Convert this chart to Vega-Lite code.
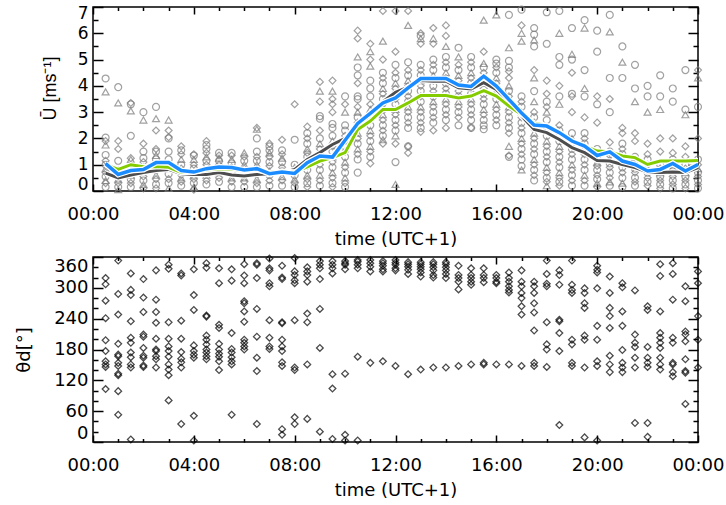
{
"$schema":"https://vega.github.io/schema/vega-lite/v6.json",
"padding":{"left":14,"top":3,"right":5,"bottom":5},
"spacing":1,
"config":{"view":{"stroke":"black","strokeWidth":1.5},"axis":{"labelFont":"DejaVu Sans","labelFontSize":18,"titleFont":"DejaVu Sans","titleFontSize":18,"titleFontWeight":"normal","labelColor":"black","titleColor":"black","tickColor":"black","tickWidth":1.5,"domain":false,"grid":false,"labelOverlap":false}},
"datasets":{
"pts":[
{"t":0.5,"u":4.28,"s":"c"},{"t":0.5,"u":3.77,"s":"t"},{"t":0.5,"u":2.03,"s":"c"},{"t":0.5,"u":1.9,"s":"d"},{"t":0.5,"u":1.75,"s":"t"},{"t":0.5,"u":1.37,"s":"c"},{"t":0.5,"u":1.15,"s":"d"},{"t":0.5,"u":1.0,"s":"c"},{"t":0.5,"u":0.85,"s":"t"},{"t":0.5,"u":0.7,"s":"d"},{"t":0.5,"u":0.55,"s":"c"},{"t":0.5,"u":0.4,"s":"t"},{"t":0.5,"u":0.3,"s":"d"},{"t":0.5,"u":0.15,"s":"c"},
{"t":1,"u":3.95,"s":"c"},{"t":1,"u":3.35,"s":"t"},{"t":1,"u":1.9,"s":"d"},{"t":1,"u":1.6,"s":"d"},{"t":1,"u":1.15,"s":"c"},{"t":1,"u":0.8,"s":"d"},{"t":1,"u":0.6,"s":"c"},{"t":1,"u":0.45,"s":"t"},{"t":1,"u":0.3,"s":"d"},{"t":1,"u":0.15,"s":"c"},{"t":1,"u":0.05,"s":"t"},
{"t":1.5,"u":3.35,"s":"d"},{"t":1.5,"u":3.3,"s":"c"},{"t":1.5,"u":3.05,"s":"t"},{"t":1.5,"u":2.1,"s":"c"},{"t":1.5,"u":1.2,"s":"t"},{"t":1.5,"u":1.25,"s":"d"},{"t":1.5,"u":0.95,"s":"c"},{"t":1.5,"u":0.8,"s":"d"},{"t":1.5,"u":0.6,"s":"t"},{"t":1.5,"u":0.45,"s":"c"},{"t":1.5,"u":0.3,"s":"d"},{"t":1.5,"u":0.15,"s":"c"},
{"t":2,"u":3.0,"s":"c"},{"t":2,"u":2.7,"s":"t"},{"t":2,"u":1.8,"s":"d"},{"t":2,"u":1.5,"s":"c"},{"t":2,"u":1.25,"s":"c"},{"t":2,"u":1.1,"s":"d"},{"t":2,"u":0.9,"s":"t"},{"t":2,"u":0.75,"s":"c"},{"t":2,"u":0.55,"s":"d"},{"t":2,"u":0.4,"s":"c"},{"t":2,"u":0.25,"s":"t"},{"t":2,"u":0.1,"s":"d"},
{"t":2.5,"u":3.2,"s":"c"},{"t":2.5,"u":2.75,"s":"t"},{"t":2.5,"u":2.3,"s":"d"},{"t":2.5,"u":1.6,"s":"d"},{"t":2.5,"u":1.5,"s":"c"},{"t":2.5,"u":1.35,"s":"t"},{"t":2.5,"u":1.2,"s":"c"},{"t":2.5,"u":1.0,"s":"d"},{"t":2.5,"u":0.8,"s":"c"},{"t":2.5,"u":0.6,"s":"t"},{"t":2.5,"u":0.45,"s":"d"},{"t":2.5,"u":0.25,"s":"c"},{"t":2.5,"u":0.1,"s":"d"},
{"t":3,"u":2.7,"s":"t"},{"t":3,"u":2.3,"s":"d"},{"t":3,"u":2.05,"s":"d"},{"t":3,"u":2.0,"s":"c"},{"t":3,"u":1.5,"s":"c"},{"t":3,"u":1.2,"s":"c"},{"t":3,"u":1.0,"s":"d"},{"t":3,"u":0.85,"s":"t"},{"t":3,"u":0.65,"s":"c"},{"t":3,"u":0.45,"s":"d"},{"t":3,"u":0.3,"s":"c"},{"t":3,"u":0.1,"s":"t"},
{"t":3.5,"u":1.7,"s":"d"},{"t":3.5,"u":1.55,"s":"c"},{"t":3.5,"u":1.4,"s":"d"},{"t":3.5,"u":1.2,"s":"t"},{"t":3.5,"u":1.0,"s":"c"},{"t":3.5,"u":0.85,"s":"d"},{"t":3.5,"u":0.65,"s":"c"},{"t":3.5,"u":0.5,"s":"t"},{"t":3.5,"u":0.35,"s":"d"},{"t":3.5,"u":0.2,"s":"c"},
{"t":4,"u":1.4,"s":"d"},{"t":4,"u":1.35,"s":"c"},{"t":4,"u":1.2,"s":"t"},{"t":4,"u":1.0,"s":"d"},{"t":4,"u":0.85,"s":"c"},{"t":4,"u":0.6,"s":"t"},{"t":4,"u":0.45,"s":"d"},{"t":4,"u":0.3,"s":"c"},{"t":4,"u":0.15,"s":"t"},{"t":4,"u":0.05,"s":"d"},
{"t":4.5,"u":1.9,"s":"d"},{"t":4.5,"u":1.75,"s":"c"},{"t":4.5,"u":1.6,"s":"c"},{"t":4.5,"u":1.45,"s":"d"},{"t":4.5,"u":1.3,"s":"t"},{"t":4.5,"u":1.15,"s":"c"},{"t":4.5,"u":1.0,"s":"d"},{"t":4.5,"u":0.8,"s":"c"},{"t":4.5,"u":0.6,"s":"t"},{"t":4.5,"u":0.4,"s":"d"},{"t":4.5,"u":0.25,"s":"c"},
{"t":5,"u":1.45,"s":"c"},{"t":5,"u":1.35,"s":"d"},{"t":5,"u":1.25,"s":"t"},{"t":5,"u":1.15,"s":"c"},{"t":5,"u":1.0,"s":"d"},{"t":5,"u":0.85,"s":"c"},{"t":5,"u":0.7,"s":"t"},{"t":5,"u":0.5,"s":"d"},{"t":5,"u":0.35,"s":"c"},
{"t":5.5,"u":1.45,"s":"c"},{"t":5.5,"u":1.35,"s":"d"},{"t":5.5,"u":1.2,"s":"t"},{"t":5.5,"u":1.05,"s":"c"},{"t":5.5,"u":0.9,"s":"d"},{"t":5.5,"u":0.7,"s":"c"},{"t":5.5,"u":0.5,"s":"t"},{"t":5.5,"u":0.35,"s":"d"},{"t":5.5,"u":0.15,"s":"c"},
{"t":6,"u":1.45,"s":"t"},{"t":6,"u":1.3,"s":"d"},{"t":6,"u":1.15,"s":"c"},{"t":6,"u":1.0,"s":"t"},{"t":6,"u":0.85,"s":"d"},{"t":6,"u":0.7,"s":"c"},{"t":6,"u":0.5,"s":"t"},{"t":6,"u":0.35,"s":"d"},{"t":6,"u":0.15,"s":"c"},
{"t":6.5,"u":2.4,"s":"d"},{"t":6.5,"u":2.35,"s":"t"},{"t":6.5,"u":2.0,"s":"c"},{"t":6.5,"u":1.5,"s":"c"},{"t":6.5,"u":1.3,"s":"d"},{"t":6.5,"u":1.15,"s":"c"},{"t":6.5,"u":1.0,"s":"t"},{"t":6.5,"u":0.85,"s":"d"},{"t":6.5,"u":0.65,"s":"c"},{"t":6.5,"u":0.45,"s":"t"},{"t":6.5,"u":0.3,"s":"d"},{"t":6.5,"u":0.15,"s":"c"},
{"t":7,"u":1.8,"s":"d"},{"t":7,"u":1.7,"s":"c"},{"t":7,"u":1.55,"s":"c"},{"t":7,"u":1.45,"s":"t"},{"t":7,"u":1.3,"s":"d"},{"t":7,"u":1.1,"s":"c"},{"t":7,"u":0.95,"s":"d"},{"t":7,"u":0.75,"s":"t"},{"t":7,"u":0.6,"s":"c"},{"t":7,"u":0.4,"s":"d"},{"t":7,"u":0.2,"s":"c"},
{"t":7.5,"u":1.95,"s":"d"},{"t":7.5,"u":1.55,"s":"c"},{"t":7.5,"u":1.4,"s":"d"},{"t":7.5,"u":1.25,"s":"t"},{"t":7.5,"u":1.1,"s":"c"},{"t":7.5,"u":0.9,"s":"d"},{"t":7.5,"u":0.75,"s":"c"},{"t":7.5,"u":0.55,"s":"t"},{"t":7.5,"u":0.4,"s":"d"},{"t":7.5,"u":0.2,"s":"c"},
{"t":8,"u":3.3,"s":"d"},{"t":8,"u":1.95,"s":"c"},{"t":8,"u":1.0,"s":"c"},{"t":8,"u":0.9,"s":"t"},{"t":8,"u":0.75,"s":"d"},{"t":8,"u":0.6,"s":"c"},{"t":8,"u":0.45,"s":"t"},{"t":8,"u":0.3,"s":"d"},{"t":8,"u":0.15,"s":"c"},
{"t":8.5,"u":2.45,"s":"d"},{"t":8.5,"u":2.2,"s":"c"},{"t":8.5,"u":2.0,"s":"d"},{"t":8.5,"u":1.8,"s":"c"},{"t":8.5,"u":1.6,"s":"t"},{"t":8.5,"u":1.45,"s":"d"},{"t":8.5,"u":1.3,"s":"c"},{"t":8.5,"u":1.1,"s":"t"},{"t":8.5,"u":0.95,"s":"d"},{"t":8.5,"u":0.8,"s":"c"},{"t":8.5,"u":0.6,"s":"t"},{"t":8.5,"u":0.45,"s":"d"},{"t":8.5,"u":0.3,"s":"c"},{"t":8.5,"u":0.15,"s":"d"},
{"t":9,"u":4.15,"s":"d"},{"t":9,"u":3.8,"s":"t"},{"t":9,"u":3.4,"s":"d"},{"t":9,"u":2.85,"s":"c"},{"t":9,"u":2.75,"s":"c"},{"t":9,"u":2.3,"s":"d"},{"t":9,"u":2.0,"s":"c"},{"t":9,"u":1.8,"s":"t"},{"t":9,"u":1.6,"s":"d"},{"t":9,"u":1.4,"s":"c"},{"t":9,"u":1.2,"s":"t"},{"t":9,"u":1.0,"s":"d"},{"t":9,"u":0.8,"s":"c"},{"t":9,"u":0.6,"s":"t"},{"t":9,"u":0.4,"s":"d"},{"t":9,"u":0.2,"s":"c"},
{"t":9.5,"u":4.2,"s":"d"},{"t":9.5,"u":3.8,"s":"t"},{"t":9.5,"u":3.5,"s":"d"},{"t":9.5,"u":3.3,"s":"d"},{"t":9.5,"u":3.0,"s":"d"},{"t":9.5,"u":2.55,"s":"c"},{"t":9.5,"u":2.4,"s":"c"},{"t":9.5,"u":2.1,"s":"c"},{"t":9.5,"u":1.9,"s":"t"},{"t":9.5,"u":1.7,"s":"d"},{"t":9.5,"u":1.5,"s":"c"},{"t":9.5,"u":1.3,"s":"t"},{"t":9.5,"u":1.1,"s":"d"},{"t":9.5,"u":0.9,"s":"c"},{"t":9.5,"u":0.7,"s":"t"},{"t":9.5,"u":0.5,"s":"d"},{"t":9.5,"u":0.3,"s":"c"},{"t":9.5,"u":0.15,"s":"d"},
{"t":10,"u":3.6,"s":"c"},{"t":10,"u":3.3,"s":"d"},{"t":10,"u":3.0,"s":"t"},{"t":10,"u":2.5,"s":"c"},{"t":10,"u":2.3,"s":"c"},{"t":10,"u":2.1,"s":"d"},{"t":10,"u":1.9,"s":"t"},{"t":10,"u":1.7,"s":"c"},{"t":10,"u":1.5,"s":"d"},{"t":10,"u":1.3,"s":"c"},{"t":10,"u":1.1,"s":"t"},{"t":10,"u":0.9,"s":"d"},{"t":10,"u":0.7,"s":"c"},{"t":10,"u":0.5,"s":"t"},{"t":10,"u":0.3,"s":"d"},{"t":10,"u":0.15,"s":"c"},
{"t":10.5,"u":6.1,"s":"d"},{"t":10.5,"u":5.8,"s":"d"},{"t":10.5,"u":5.1,"s":"t"},{"t":10.5,"u":4.7,"s":"c"},{"t":10.5,"u":4.4,"s":"c"},{"t":10.5,"u":4.1,"s":"d"},{"t":10.5,"u":3.6,"s":"c"},{"t":10.5,"u":3.5,"s":"c"},{"t":10.5,"u":3.2,"s":"d"},{"t":10.5,"u":3.0,"s":"t"},{"t":10.5,"u":2.8,"s":"c"},{"t":10.5,"u":2.6,"s":"d"},{"t":10.5,"u":2.4,"s":"c"},{"t":10.5,"u":2.2,"s":"t"},{"t":10.5,"u":2.0,"s":"d"},{"t":10.5,"u":1.8,"s":"c"},{"t":10.5,"u":1.6,"s":"t"},{"t":10.5,"u":1.4,"s":"d"},{"t":10.5,"u":1.2,"s":"c"},{"t":10.5,"u":0.7,"s":"c"},
{"t":11,"u":5.6,"s":"d"},{"t":11,"u":5.3,"s":"t"},{"t":11,"u":5.0,"s":"d"},{"t":11,"u":4.75,"s":"t"},{"t":11,"u":4.2,"s":"c"},{"t":11,"u":3.9,"s":"c"},{"t":11,"u":3.6,"s":"c"},{"t":11,"u":3.3,"s":"d"},{"t":11,"u":3.1,"s":"t"},{"t":11,"u":2.9,"s":"c"},{"t":11,"u":2.7,"s":"d"},{"t":11,"u":2.5,"s":"c"},{"t":11,"u":2.3,"s":"t"},{"t":11,"u":2.1,"s":"d"},{"t":11,"u":1.9,"s":"c"},{"t":11,"u":1.7,"s":"t"},{"t":11,"u":1.5,"s":"d"},{"t":11,"u":1.3,"s":"c"},{"t":11,"u":1.05,"s":"d"},
{"t":11.5,"u":6.85,"s":"d"},{"t":11.5,"u":5.7,"s":"t"},{"t":11.5,"u":5.0,"s":"d"},{"t":11.5,"u":4.5,"s":"c"},{"t":11.5,"u":4.3,"s":"d"},{"t":11.5,"u":4.1,"s":"c"},{"t":11.5,"u":3.9,"s":"t"},{"t":11.5,"u":3.7,"s":"d"},{"t":11.5,"u":3.5,"s":"c"},{"t":11.5,"u":3.3,"s":"d"},{"t":11.5,"u":3.1,"s":"c"},{"t":11.5,"u":2.9,"s":"t"},{"t":11.5,"u":2.7,"s":"d"},{"t":11.5,"u":2.5,"s":"c"},{"t":11.5,"u":2.3,"s":"d"},{"t":11.5,"u":2.1,"s":"c"},{"t":11.5,"u":1.95,"s":"t"},{"t":11.5,"u":1.8,"s":"d"},
{"t":12,"u":6.85,"s":"d"},{"t":12,"u":5.3,"s":"d"},{"t":12,"u":4.8,"s":"c"},{"t":12,"u":4.5,"s":"d"},{"t":12,"u":4.3,"s":"c"},{"t":12,"u":4.1,"s":"t"},{"t":12,"u":3.9,"s":"d"},{"t":12,"u":3.7,"s":"c"},{"t":12,"u":3.5,"s":"d"},{"t":12,"u":3.3,"s":"c"},{"t":12,"u":3.1,"s":"t"},{"t":12,"u":2.9,"s":"d"},{"t":12,"u":2.7,"s":"c"},{"t":12,"u":2.5,"s":"d"},{"t":12,"u":2.3,"s":"c"},{"t":12,"u":2.1,"s":"t"},{"t":12,"u":1.8,"s":"d"},{"t":12,"u":1.1,"s":"c"},{"t":12,"u":0.25,"s":"t"},
{"t":12.5,"u":6.85,"s":"d"},{"t":12.5,"u":6.3,"s":"t"},{"t":12.5,"u":4.9,"s":"c"},{"t":12.5,"u":4.6,"s":"d"},{"t":12.5,"u":4.4,"s":"c"},{"t":12.5,"u":4.2,"s":"t"},{"t":12.5,"u":4.0,"s":"d"},{"t":12.5,"u":3.8,"s":"c"},{"t":12.5,"u":3.6,"s":"d"},{"t":12.5,"u":3.4,"s":"c"},{"t":12.5,"u":3.2,"s":"t"},{"t":12.5,"u":3.0,"s":"d"},{"t":12.5,"u":2.8,"s":"c"},{"t":12.5,"u":2.6,"s":"d"},{"t":12.5,"u":2.4,"s":"c"},{"t":12.5,"u":1.7,"s":"d"},{"t":12.5,"u":1.7,"s":"c"},{"t":12.5,"u":1.45,"s":"d"},
{"t":13,"u":6.0,"s":"d"},{"t":13,"u":5.8,"s":"t"},{"t":13,"u":5.9,"s":"c"},{"t":13,"u":5.6,"s":"d"},{"t":13,"u":4.8,"s":"c"},{"t":13,"u":4.6,"s":"d"},{"t":13,"u":4.4,"s":"c"},{"t":13,"u":4.2,"s":"t"},{"t":13,"u":4.0,"s":"d"},{"t":13,"u":3.8,"s":"c"},{"t":13,"u":3.6,"s":"d"},{"t":13,"u":3.4,"s":"c"},{"t":13,"u":3.2,"s":"t"},{"t":13,"u":3.0,"s":"d"},{"t":13,"u":2.8,"s":"c"},{"t":13,"u":2.6,"s":"d"},{"t":13,"u":2.4,"s":"c"},{"t":13,"u":2.25,"s":"d"},
{"t":13.5,"u":6.2,"s":"d"},{"t":13.5,"u":5.8,"s":"t"},{"t":13.5,"u":5.6,"s":"d"},{"t":13.5,"u":5.0,"s":"c"},{"t":13.5,"u":4.8,"s":"d"},{"t":13.5,"u":4.6,"s":"c"},{"t":13.5,"u":4.4,"s":"t"},{"t":13.5,"u":4.2,"s":"d"},{"t":13.5,"u":4.0,"s":"c"},{"t":13.5,"u":3.8,"s":"d"},{"t":13.5,"u":3.6,"s":"c"},{"t":13.5,"u":3.4,"s":"t"},{"t":13.5,"u":3.2,"s":"d"},{"t":13.5,"u":3.0,"s":"c"},{"t":13.5,"u":2.8,"s":"d"},{"t":13.5,"u":2.6,"s":"c"},{"t":13.5,"u":2.3,"s":"d"},
{"t":14,"u":6.3,"s":"d"},{"t":14,"u":5.9,"s":"d"},{"t":14,"u":5.5,"s":"t"},{"t":14,"u":5.1,"s":"c"},{"t":14,"u":4.9,"s":"d"},{"t":14,"u":4.7,"s":"c"},{"t":14,"u":4.5,"s":"t"},{"t":14,"u":4.3,"s":"d"},{"t":14,"u":4.1,"s":"c"},{"t":14,"u":3.9,"s":"d"},{"t":14,"u":3.7,"s":"c"},{"t":14,"u":3.5,"s":"t"},{"t":14,"u":3.3,"s":"d"},{"t":14,"u":3.1,"s":"c"},{"t":14,"u":2.9,"s":"d"},{"t":14,"u":2.7,"s":"c"},{"t":14,"u":2.4,"s":"d"},
{"t":14.5,"u":5.45,"s":"c"},{"t":14.5,"u":5.1,"s":"t"},{"t":14.5,"u":4.8,"s":"d"},{"t":14.5,"u":4.6,"s":"c"},{"t":14.5,"u":4.4,"s":"t"},{"t":14.5,"u":4.2,"s":"d"},{"t":14.5,"u":4.0,"s":"c"},{"t":14.5,"u":3.8,"s":"d"},{"t":14.5,"u":3.6,"s":"c"},{"t":14.5,"u":3.4,"s":"t"},{"t":14.5,"u":3.2,"s":"d"},{"t":14.5,"u":3.0,"s":"c"},{"t":14.5,"u":2.8,"s":"d"},{"t":14.5,"u":2.5,"s":"c"},
{"t":15,"u":5.1,"s":"c"},{"t":15,"u":4.9,"s":"d"},{"t":15,"u":4.7,"s":"c"},{"t":15,"u":4.5,"s":"t"},{"t":15,"u":4.3,"s":"d"},{"t":15,"u":4.1,"s":"c"},{"t":15,"u":3.9,"s":"d"},{"t":15,"u":3.7,"s":"c"},{"t":15,"u":3.5,"s":"t"},{"t":15,"u":3.3,"s":"d"},{"t":15,"u":3.1,"s":"c"},{"t":15,"u":2.9,"s":"d"},{"t":15,"u":2.7,"s":"c"},{"t":15,"u":2.4,"s":"d"},{"t":15,"u":2.4,"s":"c"},
{"t":15.5,"u":6.5,"s":"t"},{"t":15.5,"u":5.3,"s":"d"},{"t":15.5,"u":4.85,"s":"t"},{"t":15.5,"u":4.7,"s":"c"},{"t":15.5,"u":4.5,"s":"d"},{"t":15.5,"u":4.3,"s":"c"},{"t":15.5,"u":4.1,"s":"t"},{"t":15.5,"u":3.9,"s":"d"},{"t":15.5,"u":3.7,"s":"c"},{"t":15.5,"u":3.5,"s":"d"},{"t":15.5,"u":3.3,"s":"c"},{"t":15.5,"u":3.1,"s":"t"},{"t":15.5,"u":2.9,"s":"d"},{"t":15.5,"u":2.7,"s":"c"},{"t":15.5,"u":2.5,"s":"c"},{"t":15.5,"u":2.35,"s":"c"},
{"t":16,"u":6.7,"s":"t"},{"t":16,"u":5.0,"s":"c"},{"t":16,"u":4.85,"s":"c"},{"t":16,"u":4.7,"s":"d"},{"t":16,"u":4.5,"s":"c"},{"t":16,"u":4.3,"s":"t"},{"t":16,"u":4.1,"s":"d"},{"t":16,"u":3.9,"s":"c"},{"t":16,"u":3.7,"s":"d"},{"t":16,"u":3.5,"s":"c"},{"t":16,"u":3.3,"s":"t"},{"t":16,"u":3.1,"s":"d"},{"t":16,"u":2.9,"s":"c"},{"t":16,"u":2.7,"s":"d"},{"t":16,"u":2.5,"s":"c"},
{"t":16.5,"u":6.7,"s":"c"},{"t":16.5,"u":5.45,"s":"t"},{"t":16.5,"u":4.95,"s":"c"},{"t":16.5,"u":4.7,"s":"c"},{"t":16.5,"u":4.55,"s":"d"},{"t":16.5,"u":4.3,"s":"d"},{"t":16.5,"u":4.0,"s":"t"},{"t":16.5,"u":3.8,"s":"c"},{"t":16.5,"u":3.6,"s":"d"},{"t":16.5,"u":3.4,"s":"c"},{"t":16.5,"u":3.2,"s":"t"},{"t":16.5,"u":3.0,"s":"d"},{"t":16.5,"u":2.8,"s":"c"},{"t":16.5,"u":2.6,"s":"d"},{"t":16.5,"u":2.4,"s":"c"},{"t":16.5,"u":2.2,"s":"d"},{"t":16.5,"u":1.7,"s":"t"},{"t":16.5,"u":1.3,"s":"c"},{"t":16.5,"u":1.35,"s":"d"},
{"t":17,"u":6.9,"s":"c"},{"t":17,"u":6.3,"s":"d"},{"t":17,"u":6.0,"s":"t"},{"t":17,"u":5.7,"s":"t"},{"t":17,"u":3.6,"s":"c"},{"t":17,"u":3.4,"s":"d"},{"t":17,"u":3.2,"s":"c"},{"t":17,"u":3.0,"s":"t"},{"t":17,"u":2.8,"s":"d"},{"t":17,"u":2.6,"s":"c"},{"t":17,"u":2.4,"s":"d"},{"t":17,"u":2.2,"s":"c"},{"t":17,"u":2.0,"s":"t"},{"t":17,"u":1.8,"s":"d"},{"t":17,"u":1.6,"s":"c"},{"t":17,"u":1.4,"s":"d"},{"t":17,"u":1.2,"s":"c"},{"t":17,"u":0.95,"s":"c"},{"t":17,"u":0.8,"s":"t"},
{"t":17.5,"u":6.2,"s":"c"},{"t":17.5,"u":5.95,"s":"c"},{"t":17.5,"u":5.75,"s":"t"},{"t":17.5,"u":5.5,"s":"c"},{"t":17.5,"u":4.6,"s":"d"},{"t":17.5,"u":4.3,"s":"t"},{"t":17.5,"u":3.8,"s":"c"},{"t":17.5,"u":3.4,"s":"t"},{"t":17.5,"u":3.0,"s":"d"},{"t":17.5,"u":2.8,"s":"c"},{"t":17.5,"u":2.6,"s":"d"},{"t":17.5,"u":2.4,"s":"c"},{"t":17.5,"u":2.2,"s":"t"},{"t":17.5,"u":2.0,"s":"d"},{"t":17.5,"u":1.8,"s":"c"},{"t":17.5,"u":1.6,"s":"d"},{"t":17.5,"u":1.4,"s":"c"},{"t":17.5,"u":1.2,"s":"t"},{"t":17.5,"u":1.0,"s":"d"},{"t":17.5,"u":0.8,"s":"c"},{"t":17.5,"u":0.6,"s":"d"},{"t":17.5,"u":0.4,"s":"c"},
{"t":18,"u":6.8,"s":"c"},{"t":18,"u":5.6,"s":"c"},{"t":18,"u":4.2,"s":"d"},{"t":18,"u":3.7,"s":"d"},{"t":18,"u":3.4,"s":"c"},{"t":18,"u":3.2,"s":"d"},{"t":18,"u":3.0,"s":"t"},{"t":18,"u":2.7,"s":"c"},{"t":18,"u":2.4,"s":"d"},{"t":18,"u":2.1,"s":"c"},{"t":18,"u":1.9,"s":"t"},{"t":18,"u":1.7,"s":"d"},{"t":18,"u":1.5,"s":"c"},{"t":18,"u":1.3,"s":"d"},{"t":18,"u":1.1,"s":"c"},{"t":18,"u":0.9,"s":"t"},{"t":18,"u":0.7,"s":"d"},{"t":18,"u":0.5,"s":"c"},{"t":18,"u":0.35,"s":"d"},{"t":18,"u":0.2,"s":"t"},
{"t":18.5,"u":6.85,"s":"c"},{"t":18.5,"u":6.0,"s":"t"},{"t":18.5,"u":5.1,"s":"c"},{"t":18.5,"u":4.8,"s":"c"},{"t":18.5,"u":4.0,"s":"d"},{"t":18.5,"u":3.6,"s":"c"},{"t":18.5,"u":3.3,"s":"t"},{"t":18.5,"u":2.5,"s":"d"},{"t":18.5,"u":2.3,"s":"c"},{"t":18.5,"u":2.1,"s":"d"},{"t":18.5,"u":1.9,"s":"c"},{"t":18.5,"u":1.7,"s":"t"},{"t":18.5,"u":1.5,"s":"d"},{"t":18.5,"u":1.3,"s":"c"},{"t":18.5,"u":1.1,"s":"d"},{"t":18.5,"u":0.9,"s":"c"},{"t":18.5,"u":0.7,"s":"t"},{"t":18.5,"u":0.5,"s":"d"},{"t":18.5,"u":0.35,"s":"c"},{"t":18.5,"u":0.2,"s":"d"},
{"t":19,"u":6.2,"s":"c"},{"t":19,"u":5.2,"s":"t"},{"t":19,"u":5.0,"s":"c"},{"t":19,"u":4.5,"s":"d"},{"t":19,"u":3.7,"s":"c"},{"t":19,"u":3.6,"s":"d"},{"t":19,"u":3.0,"s":"d"},{"t":19,"u":2.2,"s":"c"},{"t":19,"u":2.0,"s":"t"},{"t":19,"u":1.8,"s":"d"},{"t":19,"u":1.6,"s":"c"},{"t":19,"u":1.4,"s":"d"},{"t":19,"u":1.2,"s":"c"},{"t":19,"u":1.0,"s":"t"},{"t":19,"u":0.8,"s":"d"},{"t":19,"u":0.6,"s":"c"},{"t":19,"u":0.4,"s":"d"},{"t":19,"u":0.2,"s":"c"},
{"t":19.5,"u":6.5,"s":"c"},{"t":19.5,"u":6.2,"s":"t"},{"t":19.5,"u":4.6,"s":"c"},{"t":19.5,"u":3.9,"s":"t"},{"t":19.5,"u":3.6,"s":"c"},{"t":19.5,"u":2.8,"s":"d"},{"t":19.5,"u":2.2,"s":"c"},{"t":19.5,"u":2.0,"s":"d"},{"t":19.5,"u":1.8,"s":"c"},{"t":19.5,"u":1.6,"s":"t"},{"t":19.5,"u":1.4,"s":"d"},{"t":19.5,"u":1.2,"s":"c"},{"t":19.5,"u":1.0,"s":"d"},{"t":19.5,"u":0.8,"s":"c"},{"t":19.5,"u":0.6,"s":"t"},{"t":19.5,"u":0.4,"s":"d"},{"t":19.5,"u":0.2,"s":"c"},
{"t":20,"u":6.1,"s":"c"},{"t":20,"u":5.3,"s":"c"},{"t":20,"u":3.6,"s":"d"},{"t":20,"u":3.3,"s":"c"},{"t":20,"u":2.6,"s":"d"},{"t":20,"u":1.6,"s":"c"},{"t":20,"u":1.45,"s":"d"},{"t":20,"u":1.3,"s":"c"},{"t":20,"u":1.1,"s":"t"},{"t":20,"u":0.95,"s":"d"},{"t":20,"u":0.8,"s":"c"},{"t":20,"u":0.6,"s":"d"},{"t":20,"u":0.45,"s":"c"},{"t":20,"u":0.3,"s":"t"},{"t":20,"u":0.15,"s":"d"},
{"t":20.5,"u":6.7,"s":"c"},{"t":20.5,"u":6.05,"s":"t"},{"t":20.5,"u":4.3,"s":"c"},{"t":20.5,"u":3.5,"s":"d"},{"t":20.5,"u":3.0,"s":"c"},{"t":20.5,"u":1.85,"s":"d"},{"t":20.5,"u":1.5,"s":"c"},{"t":20.5,"u":1.35,"s":"d"},{"t":20.5,"u":1.2,"s":"t"},{"t":20.5,"u":1.05,"s":"c"},{"t":20.5,"u":0.9,"s":"d"},{"t":20.5,"u":0.7,"s":"c"},{"t":20.5,"u":0.5,"s":"d"},{"t":20.5,"u":0.35,"s":"t"},{"t":20.5,"u":0.2,"s":"c"},
{"t":21,"u":5.5,"s":"c"},{"t":21,"u":4.9,"s":"t"},{"t":21,"u":4.3,"s":"c"},{"t":21,"u":2.4,"s":"d"},{"t":21,"u":2.2,"s":"d"},{"t":21,"u":1.8,"s":"c"},{"t":21,"u":1.6,"s":"d"},{"t":21,"u":1.4,"s":"c"},{"t":21,"u":1.2,"s":"t"},{"t":21,"u":1.05,"s":"d"},{"t":21,"u":0.9,"s":"c"},{"t":21,"u":0.7,"s":"d"},{"t":21,"u":0.5,"s":"c"},{"t":21,"u":0.3,"s":"t"},{"t":21,"u":0.15,"s":"c"},
{"t":21.5,"u":4.8,"s":"c"},{"t":21.5,"u":3.9,"s":"c"},{"t":21.5,"u":3.4,"s":"t"},{"t":21.5,"u":2.2,"s":"d"},{"t":21.5,"u":1.9,"s":"d"},{"t":21.5,"u":1.3,"s":"c"},{"t":21.5,"u":1.15,"s":"d"},{"t":21.5,"u":1.0,"s":"t"},{"t":21.5,"u":0.85,"s":"c"},{"t":21.5,"u":0.7,"s":"d"},{"t":21.5,"u":0.5,"s":"c"},{"t":21.5,"u":0.35,"s":"d"},{"t":21.5,"u":0.2,"s":"c"},
{"t":22,"u":4.0,"s":"c"},{"t":22,"u":3.6,"s":"c"},{"t":22,"u":3.0,"s":"t"},{"t":22,"u":1.8,"s":"d"},{"t":22,"u":1.4,"s":"d"},{"t":22,"u":1.2,"s":"c"},{"t":22,"u":1.0,"s":"d"},{"t":22,"u":0.85,"s":"t"},{"t":22,"u":0.7,"s":"c"},{"t":22,"u":0.5,"s":"d"},{"t":22,"u":0.35,"s":"c"},{"t":22,"u":0.2,"s":"d"},
{"t":22.5,"u":4.4,"s":"c"},{"t":22.5,"u":3.6,"s":"c"},{"t":22.5,"u":3.1,"s":"t"},{"t":22.5,"u":2.0,"s":"d"},{"t":22.5,"u":1.5,"s":"d"},{"t":22.5,"u":1.0,"s":"c"},{"t":22.5,"u":0.85,"s":"d"},{"t":22.5,"u":0.7,"s":"t"},{"t":22.5,"u":0.55,"s":"c"},{"t":22.5,"u":0.4,"s":"d"},{"t":22.5,"u":0.25,"s":"c"},{"t":22.5,"u":0.1,"s":"d"},
{"t":23,"u":3.9,"s":"c"},{"t":23,"u":3.4,"s":"c"},{"t":23,"u":2.0,"s":"d"},{"t":23,"u":1.45,"s":"d"},{"t":23,"u":1.2,"s":"c"},{"t":23,"u":1.05,"s":"d"},{"t":23,"u":0.9,"s":"t"},{"t":23,"u":0.75,"s":"c"},{"t":23,"u":0.55,"s":"d"},{"t":23,"u":0.4,"s":"c"},{"t":23,"u":0.25,"s":"d"},{"t":23,"u":0.1,"s":"c"},
{"t":23.5,"u":4.6,"s":"c"},{"t":23.5,"u":3.1,"s":"c"},{"t":23.5,"u":2.9,"s":"t"},{"t":23.5,"u":1.7,"s":"d"},{"t":23.5,"u":1.3,"s":"d"},{"t":23.5,"u":1.0,"s":"c"},{"t":23.5,"u":0.85,"s":"d"},{"t":23.5,"u":0.7,"s":"t"},{"t":23.5,"u":0.55,"s":"c"},{"t":23.5,"u":0.4,"s":"d"},{"t":23.5,"u":0.25,"s":"c"},{"t":23.5,"u":0.1,"s":"d"},
{"t":24,"u":4.6,"s":"d"},{"t":24,"u":4.3,"s":"t"},{"t":24,"u":3.2,"s":"c"},{"t":24,"u":2.0,"s":"d"},{"t":24,"u":1.2,"s":"c"},{"t":24,"u":1.0,"s":"d"},{"t":24,"u":0.85,"s":"t"},{"t":24,"u":0.7,"s":"c"},{"t":24,"u":0.55,"s":"d"},{"t":24,"u":0.4,"s":"c"},{"t":24,"u":0.25,"s":"d"},{"t":24,"u":0.1,"s":"c"}
],
"ln":[
{"t":0.5,"k":"k","u":0.68},{"t":1,"k":"k","u":0.5},{"t":1.5,"k":"k","u":0.61},{"t":2,"k":"k","u":0.7},{"t":2.5,"k":"k","u":0.78},{"t":3,"k":"k","u":0.82},{"t":3.5,"k":"k","u":0.66},{"t":4,"k":"k","u":0.63},{"t":4.5,"k":"k","u":0.63},{"t":5,"k":"k","u":0.7},{"t":5.5,"k":"k","u":0.61},{"t":6,"k":"k","u":0.57},{"t":6.5,"k":"k","u":0.63},{"t":7,"k":"k","u":0.66},{"t":7.5,"k":"k","u":0.7},{"t":8,"k":"k","u":0.82},{"t":8.5,"k":"k","u":1.2},{"t":9,"k":"k","u":1.46},{"t":9.5,"k":"k","u":1.77},{"t":10,"k":"k","u":2.0},{"t":10.5,"k":"k","u":2.55},{"t":11,"k":"k","u":2.95},{"t":11.5,"k":"k","u":3.4},{"t":12,"k":"k","u":3.75},{"t":12.5,"k":"k","u":3.95},{"t":13,"k":"k","u":4.2},{"t":13.5,"k":"k","u":4.18},{"t":14,"k":"k","u":4.18},{"t":14.5,"k":"k","u":3.93},{"t":15,"k":"k","u":3.88},{"t":15.5,"k":"k","u":4.12},{"t":16,"k":"k","u":3.86},{"t":16.5,"k":"k","u":3.42},{"t":17,"k":"k","u":2.85},{"t":17.5,"k":"k","u":2.34},{"t":18,"k":"k","u":2.22},{"t":18.5,"k":"k","u":1.96},{"t":19,"k":"k","u":1.65},{"t":19.5,"k":"k","u":1.46},{"t":20,"k":"k","u":1.16},{"t":20.5,"k":"k","u":1.14},{"t":21,"k":"k","u":1.01},{"t":21.5,"k":"k","u":0.89},{"t":22,"k":"k","u":0.72},{"t":22.5,"k":"k","u":0.7},{"t":23,"k":"k","u":0.72},{"t":23.5,"k":"k","u":0.7},{"t":24,"k":"k","u":0.89},
{"t":0.5,"k":"g","u":1.0},{"t":1,"k":"g","u":0.82},{"t":1.5,"k":"g","u":1.0},{"t":2,"k":"g","u":0.92},{"t":2.5,"k":"g","u":0.93},{"t":3,"k":"g","u":0.9},{"t":3.5,"k":"g","u":0.7},{"t":4,"k":"g","u":0.72},{"t":4.5,"k":"g","u":0.8},{"t":5,"k":"g","u":0.85},{"t":5.5,"k":"g","u":0.83},{"t":6,"k":"g","u":0.78},{"t":6.5,"k":"g","u":0.8},{"t":7,"k":"g","u":0.7},{"t":7.5,"k":"g","u":0.75},{"t":8,"k":"g","u":0.72},{"t":8.5,"k":"g","u":0.92},{"t":9,"k":"g","u":1.14},{"t":9.5,"k":"g","u":1.27},{"t":10,"k":"g","u":1.46},{"t":10.5,"k":"g","u":2.34},{"t":11,"k":"g","u":2.66},{"t":11.5,"k":"g","u":3.1},{"t":12,"k":"g","u":3.1},{"t":12.5,"k":"g","u":3.35},{"t":13,"k":"g","u":3.63},{"t":13.5,"k":"g","u":3.63},{"t":14,"k":"g","u":3.63},{"t":14.5,"k":"g","u":3.54},{"t":15,"k":"g","u":3.61},{"t":15.5,"k":"g","u":3.82},{"t":16,"k":"g","u":3.61},{"t":16.5,"k":"g","u":3.23},{"t":17,"k":"g","u":2.91},{"t":17.5,"k":"g","u":2.59},{"t":18,"k":"g","u":2.49},{"t":18.5,"k":"g","u":2.22},{"t":19,"k":"g","u":1.9},{"t":19.5,"k":"g","u":1.71},{"t":20,"k":"g","u":1.52},{"t":20.5,"k":"g","u":1.49},{"t":21,"k":"g","u":1.33},{"t":21.5,"k":"g","u":1.27},{"t":22,"k":"g","u":1.01},{"t":22.5,"k":"g","u":1.14},{"t":23,"k":"g","u":1.14},{"t":23.5,"k":"g","u":1.14},{"t":24,"k":"g","u":1.16},
{"t":0.5,"k":"b","u":1.04},{"t":1,"k":"b","u":0.63},{"t":1.5,"k":"b","u":0.78},{"t":2,"k":"b","u":0.82},{"t":2.5,"k":"b","u":1.08},{"t":3,"k":"b","u":1.08},{"t":3.5,"k":"b","u":0.78},{"t":4,"k":"b","u":0.72},{"t":4.5,"k":"b","u":0.85},{"t":5,"k":"b","u":0.91},{"t":5.5,"k":"b","u":0.89},{"t":6,"k":"b","u":0.8},{"t":6.5,"k":"b","u":0.85},{"t":7,"k":"b","u":0.66},{"t":7.5,"k":"b","u":0.72},{"t":8,"k":"b","u":0.67},{"t":8.5,"k":"b","u":1.08},{"t":9,"k":"b","u":1.33},{"t":9.5,"k":"b","u":1.29},{"t":10,"k":"b","u":1.93},{"t":10.5,"k":"b","u":2.57},{"t":11,"k":"b","u":2.95},{"t":11.5,"k":"b","u":3.35},{"t":12,"k":"b","u":3.54},{"t":12.5,"k":"b","u":3.92},{"t":13,"k":"b","u":4.28},{"t":13.5,"k":"b","u":4.28},{"t":14,"k":"b","u":4.28},{"t":14.5,"k":"b","u":4.03},{"t":15,"k":"b","u":3.98},{"t":15.5,"k":"b","u":4.37},{"t":16,"k":"b","u":3.99},{"t":16.5,"k":"b","u":3.48},{"t":17,"k":"b","u":2.97},{"t":17.5,"k":"b","u":2.51},{"t":18,"k":"b","u":2.47},{"t":18.5,"k":"b","u":2.22},{"t":19,"k":"b","u":1.9},{"t":19.5,"k":"b","u":1.71},{"t":20,"k":"b","u":1.35},{"t":20.5,"k":"b","u":1.49},{"t":21,"k":"b","u":1.14},{"t":21.5,"k":"b","u":1.01},{"t":22,"k":"b","u":0.76},{"t":22.5,"k":"b","u":0.82},{"t":23,"k":"b","u":1.05},{"t":23.5,"k":"b","u":0.76},{"t":24,"k":"b","u":1.01}
],
"dir":[
{"t":0.5,"d":319},{"t":0.5,"d":307},{"t":0.5,"d":275},{"t":0.5,"d":241},{"t":0.5,"d":198},{"t":0.5,"d":177},{"t":0.5,"d":157},{"t":0.5,"d":151},{"t":0.5,"d":146},{"t":0.5,"d":103},
{"t":1,"d":353},{"t":1,"d":288},{"t":1,"d":248},{"t":1,"d":191},{"t":1,"d":170},{"t":1,"d":167},{"t":1,"d":154},{"t":1,"d":148},{"t":1,"d":133},{"t":1,"d":130},{"t":1,"d":99},{"t":1,"d":53},
{"t":1.5,"d":328},{"t":1.5,"d":296},{"t":1.5,"d":286},{"t":1.5,"d":235},{"t":1.5,"d":203},{"t":1.5,"d":193},{"t":1.5,"d":174},{"t":1.5,"d":165},{"t":1.5,"d":151},{"t":1.5,"d":145},{"t":1.5,"d":5},
{"t":2,"d":317},{"t":2,"d":281},{"t":2,"d":253},{"t":2,"d":209},{"t":2,"d":205},{"t":2,"d":183},{"t":2,"d":168},{"t":2,"d":164},{"t":2,"d":149},{"t":2,"d":146},
{"t":2.5,"d":334},{"t":2.5,"d":277},{"t":2.5,"d":253},{"t":2.5,"d":232},{"t":2.5,"d":201},{"t":2.5,"d":180},{"t":2.5,"d":177},{"t":2.5,"d":167},{"t":2.5,"d":161},{"t":2.5,"d":145},
{"t":3,"d":345},{"t":3,"d":337},{"t":3,"d":233},{"t":3,"d":201},{"t":3,"d":186},{"t":3,"d":177},{"t":3,"d":166},{"t":3,"d":151},{"t":3,"d":141},{"t":3,"d":130},{"t":3,"d":81},
{"t":3.5,"d":328},{"t":3.5,"d":324},{"t":3.5,"d":236},{"t":3.5,"d":201},{"t":3.5,"d":175},{"t":3.5,"d":162},{"t":3.5,"d":155},{"t":3.5,"d":145},{"t":3.5,"d":35},
{"t":4,"d":336},{"t":4,"d":286},{"t":4,"d":257},{"t":4,"d":188},{"t":4,"d":177},{"t":4,"d":170},{"t":4,"d":164},{"t":4,"d":51},{"t":4,"d":3},
{"t":4.5,"d":348},{"t":4.5,"d":339},{"t":4.5,"d":246},{"t":4.5,"d":244},{"t":4.5,"d":207},{"t":4.5,"d":199},{"t":4.5,"d":190},{"t":4.5,"d":180},{"t":4.5,"d":174},{"t":4.5,"d":167},{"t":4.5,"d":161},
{"t":5,"d":338},{"t":5,"d":309},{"t":5,"d":228},{"t":5,"d":222},{"t":5,"d":191},{"t":5,"d":180},{"t":5,"d":172},{"t":5,"d":166},{"t":5,"d":157},{"t":5,"d":140},
{"t":5.5,"d":336},{"t":5.5,"d":314},{"t":5.5,"d":212},{"t":5.5,"d":181},{"t":5.5,"d":174},{"t":5.5,"d":165},{"t":5.5,"d":157},{"t":5.5,"d":151},{"t":5.5,"d":53},
{"t":6,"d":346},{"t":6,"d":324},{"t":6,"d":309},{"t":6,"d":274},{"t":6,"d":270},{"t":6,"d":254},{"t":6,"d":234},{"t":6,"d":199},{"t":6,"d":193},{"t":6,"d":186},{"t":6,"d":180},
{"t":6.5,"d":348},{"t":6.5,"d":345},{"t":6.5,"d":319},{"t":6.5,"d":259},{"t":6.5,"d":205},{"t":6.5,"d":164},{"t":6.5,"d":138},{"t":6.5,"d":35},
{"t":7,"d":357},{"t":7,"d":338},{"t":7,"d":334},{"t":7,"d":309},{"t":7,"d":303},{"t":7,"d":237},{"t":7,"d":203},{"t":7,"d":186},{"t":7,"d":181},
{"t":7.5,"d":343},{"t":7.5,"d":320},{"t":7.5,"d":317},{"t":7.5,"d":233},{"t":7.5,"d":231},{"t":7.5,"d":199},{"t":7.5,"d":186},{"t":7.5,"d":177},{"t":7.5,"d":155},{"t":7.5,"d":148},{"t":7.5,"d":25},{"t":7.5,"d":14},
{"t":8,"d":358},{"t":8,"d":332},{"t":8,"d":325},{"t":8,"d":315},{"t":8,"d":309},{"t":8,"d":237},{"t":8,"d":145},{"t":8,"d":140},{"t":8,"d":48},{"t":8,"d":35},
{"t":8.5,"d":340},{"t":8.5,"d":332},{"t":8.5,"d":325},{"t":8.5,"d":312},{"t":8.5,"d":250},{"t":8.5,"d":233},{"t":8.5,"d":151},{"t":8.5,"d":45},
{"t":9,"d":352},{"t":9,"d":345},{"t":9,"d":338},{"t":9,"d":317},{"t":9,"d":259},{"t":9,"d":183},{"t":9,"d":20},
{"t":9.5,"d":352},{"t":9.5,"d":345},{"t":9.5,"d":338},{"t":9.5,"d":328},{"t":9.5,"d":132},{"t":9.5,"d":104},{"t":9.5,"d":6},
{"t":10,"d":352},{"t":10,"d":348},{"t":10,"d":345},{"t":10,"d":336},{"t":10,"d":133},{"t":10,"d":14},{"t":10,"d":3},
{"t":10.5,"d":354},{"t":10.5,"d":351},{"t":10.5,"d":345},{"t":10.5,"d":338},{"t":10.5,"d":166},{"t":10.5,"d":3},
{"t":11,"d":354},{"t":11,"d":348},{"t":11,"d":341},{"t":11,"d":332},{"t":11,"d":154},
{"t":11.5,"d":352},{"t":11.5,"d":348},{"t":11.5,"d":343},{"t":11.5,"d":336},{"t":11.5,"d":332},{"t":11.5,"d":157},
{"t":12,"d":354},{"t":12,"d":349},{"t":12,"d":345},{"t":12,"d":338},{"t":12,"d":334},{"t":12,"d":148},
{"t":12.5,"d":350},{"t":12.5,"d":346},{"t":12.5,"d":341},{"t":12.5,"d":335},{"t":12.5,"d":327},{"t":12.5,"d":132},
{"t":13,"d":350},{"t":13,"d":346},{"t":13,"d":341},{"t":13,"d":336},{"t":13,"d":330},{"t":13,"d":322},{"t":13,"d":141},
{"t":13.5,"d":350},{"t":13.5,"d":346},{"t":13.5,"d":340},{"t":13.5,"d":334},{"t":13.5,"d":325},{"t":13.5,"d":320},{"t":13.5,"d":145},
{"t":14,"d":350},{"t":14,"d":346},{"t":14,"d":340},{"t":14,"d":334},{"t":14,"d":327},{"t":14,"d":319},{"t":14,"d":145},
{"t":14.5,"d":343},{"t":14.5,"d":325},{"t":14.5,"d":319},{"t":14.5,"d":312},{"t":14.5,"d":297},{"t":14.5,"d":148},
{"t":15,"d":338},{"t":15,"d":325},{"t":15,"d":319},{"t":15,"d":312},{"t":15,"d":306},{"t":15,"d":151},
{"t":15.5,"d":338},{"t":15.5,"d":325},{"t":15.5,"d":319},{"t":15.5,"d":311},{"t":15.5,"d":154},{"t":15.5,"d":151},
{"t":16,"d":325},{"t":16,"d":319},{"t":16,"d":312},{"t":16,"d":309},{"t":16,"d":151},
{"t":16.5,"d":330},{"t":16.5,"d":319},{"t":16.5,"d":312},{"t":16.5,"d":303},{"t":16.5,"d":296},{"t":16.5,"d":291},{"t":16.5,"d":151},
{"t":17,"d":334},{"t":17,"d":312},{"t":17,"d":303},{"t":17,"d":290},{"t":17,"d":280},{"t":17,"d":264},{"t":17,"d":248},{"t":17,"d":148},
{"t":17.5,"d":312},{"t":17.5,"d":303},{"t":17.5,"d":290},{"t":17.5,"d":270},{"t":17.5,"d":252},{"t":17.5,"d":217},{"t":17.5,"d":154},{"t":17.5,"d":148},
{"t":18,"d":353},{"t":18,"d":327},{"t":18,"d":308},{"t":18,"d":303},{"t":18,"d":233},{"t":18,"d":190},{"t":18,"d":180},{"t":18,"d":146},
{"t":18.5,"d":334},{"t":18.5,"d":325},{"t":18.5,"d":306},{"t":18.5,"d":238},{"t":18.5,"d":235},{"t":18.5,"d":212},{"t":18.5,"d":177},{"t":18.5,"d":33},
{"t":19,"d":353},{"t":19,"d":306},{"t":19,"d":296},{"t":19,"d":290},{"t":19,"d":199},{"t":19,"d":190},{"t":19,"d":154},{"t":19,"d":148},
{"t":19.5,"d":299},{"t":19.5,"d":290},{"t":19.5,"d":270},{"t":19.5,"d":261},{"t":19.5,"d":207},{"t":19.5,"d":199},{"t":19.5,"d":145},{"t":19.5,"d":9},
{"t":20,"d":343},{"t":20,"d":335},{"t":20,"d":330},{"t":20,"d":299},{"t":20,"d":226},{"t":20,"d":199},{"t":20,"d":157},{"t":20,"d":148},{"t":20,"d":3},
{"t":20.5,"d":322},{"t":20.5,"d":290},{"t":20.5,"d":261},{"t":20.5,"d":245},{"t":20.5,"d":222},{"t":20.5,"d":168},{"t":20.5,"d":151},{"t":20.5,"d":136},
{"t":21,"d":309},{"t":21,"d":301},{"t":21,"d":254},{"t":21,"d":226},{"t":21,"d":179},{"t":21,"d":154},{"t":21,"d":145},{"t":21,"d":136},
{"t":21.5,"d":295},{"t":21.5,"d":209},{"t":21.5,"d":193},{"t":21.5,"d":185},{"t":21.5,"d":164},{"t":21.5,"d":145},{"t":21.5,"d":37},
{"t":22,"d":264},{"t":22,"d":257},{"t":22,"d":185},{"t":22,"d":164},{"t":22,"d":154},{"t":22,"d":146},{"t":22,"d":37},{"t":22,"d":10},
{"t":22.5,"d":346},{"t":22.5,"d":323},{"t":22.5,"d":254},{"t":22.5,"d":212},{"t":22.5,"d":203},{"t":22.5,"d":193},{"t":22.5,"d":183},{"t":22.5,"d":164},{"t":22.5,"d":151},{"t":22.5,"d":141},
{"t":23,"d":348},{"t":23,"d":327},{"t":23,"d":277},{"t":23,"d":203},{"t":23,"d":193},{"t":23,"d":154},{"t":23,"d":151},{"t":23,"d":136},{"t":23,"d":128},
{"t":23.5,"d":303},{"t":23.5,"d":274},{"t":23.5,"d":215},{"t":23.5,"d":209},{"t":23.5,"d":196},{"t":23.5,"d":161},{"t":23.5,"d":138},{"t":23.5,"d":135},{"t":23.5,"d":74},
{"t":24,"d":332},{"t":24,"d":309},{"t":24,"d":245},{"t":24,"d":199},{"t":24,"d":145}
]
},
"vconcat":[
{
"width":605,"height":184,
"layer":[
{"data":{"name":"pts"},
 "mark":{"type":"point","filled":false,"strokeWidth":1.2,"size":48,"color":"#7a7a7a"},
 "encoding":{
  "x":{"field":"t","type":"quantitative","scale":{"domain":[0,24],"nice":false,"zero":false},
   "axis":{"orient":"bottom","values":[0,1,2,3,4,5,6,7,8,9,10,11,12,13,14,15,16,17,18,19,20,21,22,23,24],"labelExpr":"datum.value % 4 == 0 ? ((datum.value % 24) < 10 ? '0' : '') + (datum.value % 24) + ':00' : ''","labelFlush":false,"labelBound":false,"tickSize":{"condition":{"test":"datum.value % 4 == 0","value":-7},"value":-3.5},"labelPadding":21,"title":"time (UTC+1)","titlePadding":4}},
  "y":{"field":"u","type":"quantitative","scale":{"domain":[0,7],"nice":false},
   "axis":{"orient":"left","values":[0,0.5,1,1.5,2,2.5,3,3.5,4,4.5,5,5.5,6,6.5,7],"labelExpr":"datum.value % 1 == 0 ? '' + datum.value : ''","labelFlush":true,"labelFlushOffset":2,"labelFontSize":17,"tickSize":{"condition":{"test":"datum.value % 1 == 0","value":-10},"value":-5},"labelPadding":15,"title":"Ū  [ms⁻¹]","titleFont":"Liberation Sans","titleY":81,"titlePadding":18}},
  "shape":{"field":"s","type":"nominal","scale":{"domain":["c","t","d"],"range":["circle","triangle-up","diamond"]},"legend":null}
 }},
{"data":{"name":"ln"},"transform":[{"filter":"datum.k == 'k'"}],
 "mark":{"type":"line","color":"white","strokeWidth":5.5},
 "encoding":{
  "x":{"field":"t","type":"quantitative","axis":{"orient":"top","values":[0,1,2,3,4,5,6,7,8,9,10,11,12,13,14,15,16,17,18,19,20,21,22,23,24],"labels":false,"title":null,"tickSize":{"condition":{"test":"datum.value % 4 == 0","value":-7},"value":-3.5}}},
  "y":{"field":"u","type":"quantitative","axis":{"orient":"right","values":[0,0.5,1,1.5,2,2.5,3,3.5,4,4.5,5,5.5,6,6.5,7],"labels":false,"title":null,"tickSize":{"condition":{"test":"datum.value % 1 == 0","value":-10},"value":-5}}}
 }},
{"data":{"name":"ln"},"transform":[{"filter":"datum.k == 'k'"}],
 "mark":{"type":"line","color":"#4d4d4d","strokeWidth":3},
 "encoding":{"x":{"field":"t","type":"quantitative","axis":null},"y":{"field":"u","type":"quantitative","axis":null}}},
{"data":{"name":"ln"},"transform":[{"filter":"datum.k == 'g'"}],
 "mark":{"type":"line","color":"white","strokeWidth":5.5},
 "encoding":{"x":{"field":"t","type":"quantitative","axis":null},"y":{"field":"u","type":"quantitative","axis":null}}},
{"data":{"name":"ln"},"transform":[{"filter":"datum.k == 'g'"}],
 "mark":{"type":"line","color":"#84cc00","strokeWidth":3},
 "encoding":{"x":{"field":"t","type":"quantitative","axis":null},"y":{"field":"u","type":"quantitative","axis":null}}},
{"data":{"name":"ln"},"transform":[{"filter":"datum.k == 'b'"}],
 "mark":{"type":"line","color":"white","strokeWidth":6},
 "encoding":{"x":{"field":"t","type":"quantitative","axis":null},"y":{"field":"u","type":"quantitative","axis":null}}},
{"data":{"name":"ln"},"transform":[{"filter":"datum.k == 'b'"}],
 "mark":{"type":"line","color":"#1a8cff","strokeWidth":3.5},
 "encoding":{"x":{"field":"t","type":"quantitative","axis":null},"y":{"field":"u","type":"quantitative","axis":null}}}
],
"resolve":{"axis":{"x":"independent","y":"independent"}}
},
{
"width":605,"height":185,
"layer":[
{"data":{"name":"dir"},
 "mark":{"type":"point","shape":"diamond","filled":false,"strokeWidth":1.3,"size":45,"color":"#000000"},
 "encoding":{
  "x":{"field":"t","type":"quantitative","scale":{"domain":[0,24],"nice":false,"zero":false},
   "axis":{"orient":"bottom","values":[0,1,2,3,4,5,6,7,8,9,10,11,12,13,14,15,16,17,18,19,20,21,22,23,24],"labelExpr":"datum.value % 4 == 0 ? ((datum.value % 24) < 10 ? '0' : '') + (datum.value % 24) + ':00' : ''","labelFlush":false,"labelBound":false,"tickSize":{"condition":{"test":"datum.value % 4 == 0","value":-7},"value":-3.5},"labelPadding":21,"title":"time (UTC+1)","titlePadding":4}},
  "y":{"field":"d","type":"quantitative","scale":{"domain":[0,360],"nice":false},
   "axis":{"orient":"left","values":[0,20,40,60,80,100,120,140,160,180,200,220,240,260,280,300,320,340,360],"labelExpr":"datum.value % 60 == 0 ? '' + datum.value : ''","labelFlush":true,"tickSize":{"condition":{"test":"datum.value % 60 == 0","value":-10},"value":-5},"labelPadding":15,"title":"θd[°]","titlePadding":20}}
 }},
{"data":{"name":"dir"},"transform":[{"filter":"false"}],
 "mark":{"type":"point","opacity":0},
 "encoding":{
  "x":{"field":"t","type":"quantitative","axis":{"orient":"top","values":[0,1,2,3,4,5,6,7,8,9,10,11,12,13,14,15,16,17,18,19,20,21,22,23,24],"labels":false,"title":null,"tickSize":{"condition":{"test":"datum.value % 4 == 0","value":-7},"value":-3.5}}},
  "y":{"field":"d","type":"quantitative","axis":{"orient":"right","values":[0,20,40,60,80,100,120,140,160,180,200,220,240,260,280,300,320,340,360],"labels":false,"title":null,"tickSize":{"condition":{"test":"datum.value % 60 == 0","value":-10},"value":-5}}}
 }}
],
"resolve":{"axis":{"x":"independent","y":"independent"}}
}
]
}
